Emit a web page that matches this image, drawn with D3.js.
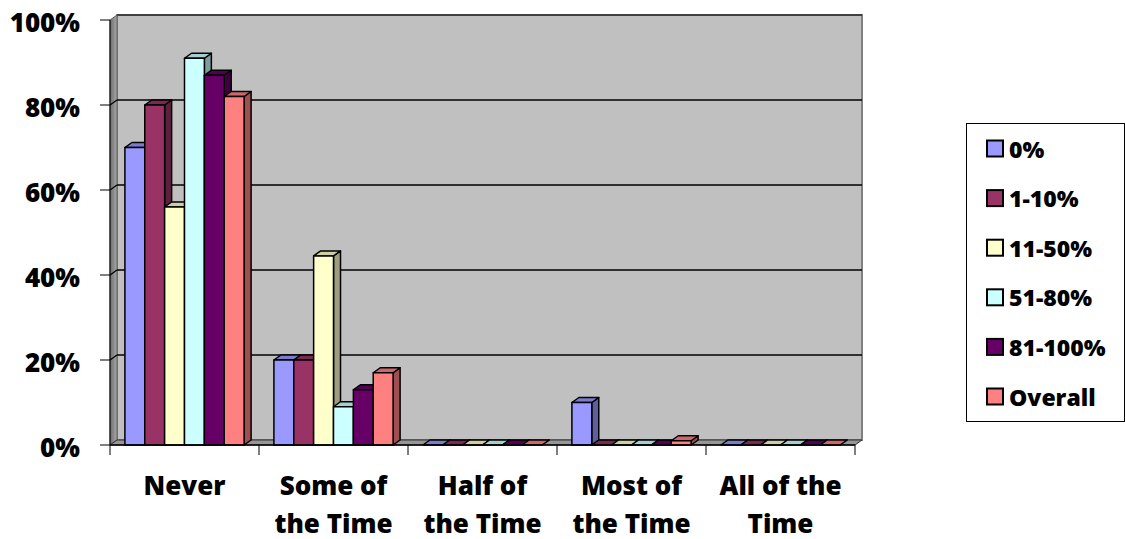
<!DOCTYPE html>
<html>
<head>
<meta charset="utf-8">
<script src="https://cdn.jsdelivr.net/npm/d3@7"></script>
<style>
  body { margin: 0; background: #fff; }
  text { font-family: "Open Sans", sans-serif; font-weight: 800; fill: #000; }
</style>
</head>
<body>
<div id="chart"></div>
<script>
// categories and series
var categories = ["Never", "Some of the Time", "Half of the Time", "Most of the Time", "All of the Time"];
var catLines = [["Never"], ["Some of", "the Time"], ["Half of", "the Time"], ["Most of", "the Time"], ["All of the", "Time"]];
var seriesNames = ["0%", "1-10%", "11-50%", "51-80%", "81-100%", "Overall"];
var seriesColors = ["#9999FF", "#993366", "#FFFFCC", "#CCFFFF", "#660066", "#FF8080"];

// values in percent, one array per series
var pct0 = [70, 20, 0, 10, 0];
var pct1_10 = [80, 20, 0, 0, 0];
var pct11_50 = [56, 44.5, 0, 0, 0];
var pct51_80 = [91, 9, 0, 0, 0];
var pct81_100 = [87, 13, 0, 0, 0];
var pctOverall = [82, 17, 0, 1, 0];
var seriesValues = [pct0, pct1_10, pct11_50, pct51_80, pct81_100, pctOverall];

var yTicks = [0, 20, 40, 60, 80, 100];

var W = 1125, H = 539;
var dx = 7, dy = -5;   // 3d depth offset

var svg = d3.select("#chart").append("svg")
    .attr("width", W)
    .attr("height", H);

var y = d3.scaleLinear().domain([0, 100]).range([445, 20]);
var x0 = d3.scaleBand().domain(categories).range([110, 855]).padding(0);
var x1 = d3.scaleBand().domain(seriesNames).range([0, x0.bandwidth()])
    .paddingInner(0).paddingOuter(0.75);

var xl = x0.range()[0], xr = x0.range()[1];
var yb = y(0), yt = y(100);

var defs = svg.append("defs");
var grad = defs.append("linearGradient").attr("id", "sidewall")
    .attr("x1", "0%").attr("x2", "100%");
grad.append("stop").attr("offset", "0%").attr("stop-color", "#6e6e6e");
grad.append("stop").attr("offset", "100%").attr("stop-color", "#a8a8a8");

function poly(pts) {
    return "M" + pts.map(function(p) { return p[0] + "," + p[1]; }).join("L") + "Z";
}

// back wall
svg.append("rect")
    .attr("x", xl + dx).attr("y", yt + dy)
    .attr("width", xr - xl).attr("height", yb - yt)
    .attr("fill", "#C0C0C0")
    .attr("stroke", "#808080").attr("stroke-width", 2);
svg.append("line")
    .attr("x1", xl + dx).attr("x2", xr + dx)
    .attr("y1", yt + dy).attr("y2", yt + dy)
    .attr("stroke", "#404040").attr("stroke-width", 2);

// left side wall
svg.append("path")
    .attr("d", poly([[xl, yt], [xl + dx, yt + dy], [xl + dx, yb + dy], [xl, yb]]))
    .attr("fill", "url(#sidewall)")
    .attr("stroke", "#606060").attr("stroke-width", 1);

// floor
svg.append("path")
    .attr("d", poly([[xl, yb], [xl + dx, yb + dy], [xr + dx, yb + dy], [xr, yb]]))
    .attr("fill", "#969696")
    .attr("stroke", "#303030").attr("stroke-width", 1);

// gridlines on back wall + side wall
var grid = svg.append("g");
yTicks.filter(function(t) { return t > 0 && t < 100; }).forEach(function(t) {
    grid.append("line")
        .attr("x1", xl + dx).attr("x2", xr + dx)
        .attr("y1", y(t) + dy).attr("y2", y(t) + dy)
        .attr("stroke", "#000").attr("stroke-width", 1.6);
    grid.append("line")
        .attr("x1", xl).attr("x2", xl + dx)
        .attr("y1", y(t)).attr("y2", y(t) + dy)
        .attr("stroke", "#000").attr("stroke-width", 1.2);
});

// bars
var bars = svg.append("g");
categories.forEach(function(c, ci) {
    seriesNames.forEach(function(s, si) {
        var v = seriesValues[si][ci];
        var bx = x0(c) + x1(s), bw = x1.bandwidth();
        var by = y(v);
        var col = d3.rgb(seriesColors[si]);
        var g = bars.append("g")
            .attr("stroke", "#000").attr("stroke-width", 1.5)
            .attr("stroke-linejoin", "round");
        // side face
        g.append("path")
            .attr("d", poly([[bx + bw, by], [bx + bw + dx, by + dy], [bx + bw + dx, yb + dy], [bx + bw, yb]]))
            .attr("fill", col.darker(1.35));
        // top face
        g.append("path")
            .attr("d", poly([[bx, by], [bx + dx, by + dy], [bx + bw + dx, by + dy], [bx + bw, by]]))
            .attr("fill", col.darker(0.6));
        // front face
        if (v > 0) {
            g.append("rect")
                .attr("x", bx).attr("y", by)
                .attr("width", bw).attr("height", yb - by)
                .attr("fill", col);
        }
    });
});

// y axis
var yAxis = svg.append("g");
yAxis.append("line")
    .attr("x1", xl).attr("x2", xl).attr("y1", yt).attr("y2", yb)
    .attr("stroke", "#000").attr("stroke-width", 1);
yTicks.forEach(function(t) {
    yAxis.append("line")
        .attr("x1", xl - 10).attr("x2", xl)
        .attr("y1", y(t)).attr("y2", y(t))
        .attr("stroke", "#000").attr("stroke-width", 1);
    yAxis.append("text")
        .attr("x", 80).attr("y", y(t) + 11.5)
        .attr("text-anchor", "end")
        .style("font-size", "26px")
        .text(t + "%");
});

// x axis
var xAxis = svg.append("g");
xAxis.append("line")
    .attr("x1", xl).attr("x2", xr).attr("y1", yb).attr("y2", yb)
    .attr("stroke", "#000").attr("stroke-width", 1.5);
categories.concat([null]).forEach(function(c, i) {
    var xx = c === null ? xr : x0(c);
    xAxis.append("line")
        .attr("x1", xx).attr("x2", xx).attr("y1", yb).attr("y2", yb + 10)
        .attr("stroke", "#000").attr("stroke-width", 1);
});
categories.forEach(function(c, i) {
    var t = xAxis.append("text")
        .attr("x", x0(c) + x0.bandwidth() / 2)
        .attr("text-anchor", "middle")
        .style("font-size", "26px");
    catLines[i].forEach(function(line, li) {
        t.append("tspan")
            .attr("x", x0(c) + x0.bandwidth() / 2)
            .attr("y", 494.5 + li * 38)
            .text(line);
    });
});

// legend
var legend = svg.append("g");
legend.append("rect")
    .attr("x", 966.5).attr("y", 123.5)
    .attr("width", 158).attr("height", 298)
    .attr("fill", "#fff").attr("stroke", "#000").attr("stroke-width", 1);
seriesNames.forEach(function(s, i) {
    var base = 157.5 + i * 49.6;
    legend.append("rect")
        .attr("x", 987).attr("y", base - 17)
        .attr("width", 16).attr("height", 16)
        .attr("fill", seriesColors[i])
        .attr("stroke", "#000").attr("stroke-width", 2);
    legend.append("text")
        .attr("x", 1009).attr("y", base)
        .style("font-size", "23px")
        .text(s);
});
</script>
</body>
</html>
